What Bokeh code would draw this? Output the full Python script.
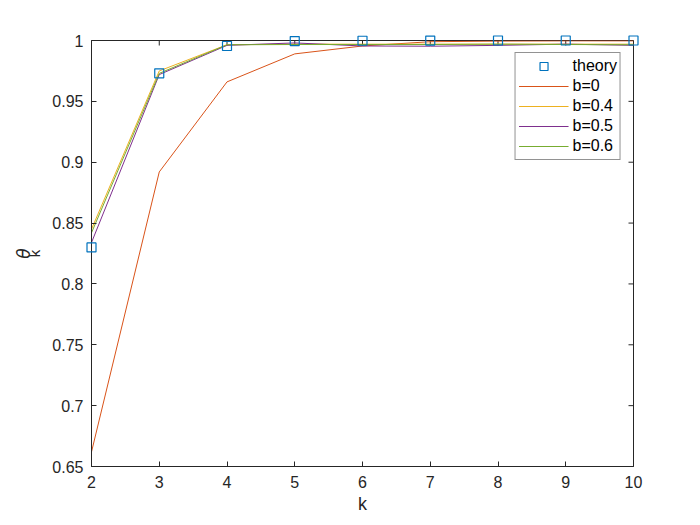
import math
from bokeh.plotting import figure
from bokeh.models import FixedTicker, Range1d, Legend, LegendItem, LinearAxis
from bokeh.embed import file_html
from bokeh.resources import INLINE

k = [2, 3, 4, 5, 6, 7, 8, 9, 10]
theory = [0.830, 0.973, 0.9955, 0.9995, 0.9998, 0.9999, 1.0, 1.0, 1.0]
b0 = [0.662, 0.892, 0.966, 0.989, 0.9955, 0.999, 0.9995, 0.9997, 0.9997]
b04 = [0.845, 0.975, 0.9965, 0.997, 0.997, 0.997, 0.997, 0.997, 0.997]
b05 = [0.834, 0.972, 0.996, 0.998, 0.9955, 0.9953, 0.996, 0.997, 0.996]
b06 = [0.842, 0.973, 0.9965, 0.9967, 0.9967, 0.9967, 0.997, 0.9967, 0.9965]
xticks = [2, 3, 4, 5, 6, 7, 8, 9, 10]
yticks = [0.65, 0.7, 0.75, 0.8, 0.85, 0.9, 0.95, 1.0]
ytick_labels = ["0.65", "0.7", "0.75", "0.8", "0.85", "0.9", "0.95", "1"]
XMIN, XMAX, YMIN, YMAX = 2, 10, 0.65, 1.0

FONT = "Liberation Sans"
AX = "#262626"

p = figure(width=692, height=517, output_backend="svg", toolbar_location=None,
           x_range=Range1d(XMIN, XMAX), y_range=Range1d(YMIN, YMAX),
           min_border_left=91, min_border_right=59, min_border_top=40, min_border_bottom=51)
p.background_fill_color = "white"
p.border_fill_color = "white"
p.grid.visible = False
p.outline_line_color = AX
p.outline_line_width = 1

for ax in [p.xaxis[0], p.yaxis[0]]:
    ax.axis_line_color = AX
    ax.major_tick_line_color = AX
    ax.major_tick_in = 5
    ax.major_tick_out = 0
    ax.minor_tick_line_color = None
    ax.major_label_text_font = FONT
    ax.major_label_text_font_size = "16px"
    ax.major_label_text_color = AX
    ax.axis_label_text_font = FONT
    ax.axis_label_text_font_size = "18px"
    ax.axis_label_text_font_style = "normal"
    ax.axis_label_text_color = AX

p.xaxis.ticker = FixedTicker(ticks=xticks)
p.yaxis.ticker = FixedTicker(ticks=yticks)
p.yaxis.major_label_overrides = {t: l for t, l in zip(yticks, ytick_labels)}
p.xaxis.major_label_standoff = 9
p.yaxis.major_label_standoff = 8
p.xaxis.axis_label = "k"
p.xaxis.axis_label_standoff = 3

# y-axis label: theta with subscript k; the subscript sits on the main axis,
# theta on an extra label-only axis just outside it
p.yaxis.axis_label = "k"
p.yaxis.axis_label_text_font_size = "15px"
p.yaxis.axis_label_standoff = 6
theta_axis = LinearAxis(ticker=FixedTicker(ticks=[]), axis_label="\u03b8",
                        axis_line_color=None, major_tick_line_color=None,
                        minor_tick_line_color=None,
                        axis_label_text_font="DejaVu Sans",
                        axis_label_text_font_style="italic",
                        axis_label_text_font_size="17px",
                        axis_label_text_color=AX,
                        axis_label_standoff=-10)
p.add_layout(theta_axis, "left")

# tick marks on top and right edges (box on)
p.ray(x=xticks, y=[YMAX] * len(xticks), length=5, length_units="screen",
      angle=-math.pi / 2, line_color=AX, line_width=1)
p.ray(x=[XMAX] * len(yticks), y=yticks, length=5, length_units="screen",
      angle=math.pi, line_color=AX, line_width=1)

r0 = p.line(k, b0, line_color="#D95319", line_width=1)
r4 = p.line(k, b04, line_color="#EDB120", line_width=1)
r5 = p.line(k, b05, line_color="#7E2F8E", line_width=1)
r6 = p.line(k, b06, line_color="#77AC30", line_width=1)
r_th = p.scatter(k, theory, marker="square", size=9, fill_color=None,
                 line_color="#0072BD", line_width=1.2, level="overlay")

legend = Legend(items=[
    LegendItem(label="theory", renderers=[r_th]),
    LegendItem(label="b=0", renderers=[r0]),
    LegendItem(label="b=0.4", renderers=[r4]),
    LegendItem(label="b=0.5", renderers=[r5]),
    LegendItem(label="b=0.6", renderers=[r6]),
], location="top_right")
legend.margin = 12
legend.padding = 3
legend.spacing = 0
legend.glyph_width = 50
legend.glyph_height = 20
legend.label_height = 20
legend.label_standoff = 4
legend.label_text_font = FONT
legend.label_text_font_size = "16px"
legend.label_text_color = "black"
legend.border_line_color = AX
legend.border_line_width = 1
legend.background_fill_alpha = 1
p.add_layout(legend)

open("out.html", "w").write(file_html(p, INLINE))
